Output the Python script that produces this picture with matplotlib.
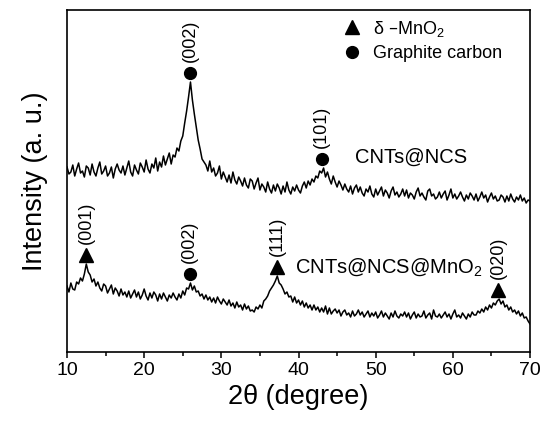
import numpy as np
import matplotlib
matplotlib.use('Agg')
import matplotlib.pyplot as plt
from matplotlib.lines import Line2D

plt.rcParams['font.family'] = ['Liberation Sans', 'DejaVu Sans']
plt.rcParams['mathtext.default'] = 'regular'

# XRD patterns, 2-theta from 10 to 70 deg in 0.25 deg steps (arbitrary intensity units)
two_theta = np.arange(10.0, 70.01, 0.25)

cnts_ncs = [
    185, 178, 180, 187,   176, 183, 189, 179,   181, 175, 186, 184,
    177, 188, 180, 176,   184, 190, 178, 181,   186, 176, 179, 185,
    174, 183, 188, 182,   179, 186, 177, 184,   191, 180, 176, 187,
    182, 178, 189, 185,   180, 192, 183, 179,   188, 184, 194, 181,
    190, 185, 196, 187,   193, 199, 188, 197,   195, 204, 201, 211,
    216, 229, 241, 255,   270, 252, 238, 225,   212, 203, 193, 190,
    187, 181, 191, 180,   184, 176, 179, 186,   173, 180, 175, 170,
    177, 169, 180, 172,   168, 175, 171, 166,   174, 167, 164, 173,
    171, 163, 169, 174,   162, 168, 165, 160,   170, 163, 159, 167,
    161, 168, 164, 158,   166, 160, 170, 162,   158, 165, 161, 167,
    162, 159, 166, 170,   164, 171, 167, 173,   170, 176, 174, 181,
    179, 184, 175, 180,   173, 168, 176, 170,   165, 171, 167, 162,
    168, 163, 160, 166,   158, 164, 167, 160,   165, 159, 156, 163,
    160, 166, 158, 155,   163, 157, 161, 165,   156, 162, 159, 154,
    161, 165, 157, 160,   155, 158, 163, 156,   162, 154, 159, 157,
    153, 160, 164, 156,   159, 155, 152, 161,   163, 156, 158, 153,
    155, 160, 154, 158,   161, 152, 157, 163,   154, 158, 153, 156,
    160, 155, 151, 157,   153, 159, 156, 152,   158, 151, 155, 160,
    154, 157, 150, 155,   159, 153, 156, 151,   152, 157, 155, 150,
    156, 151, 158, 153,   150, 155, 152, 157,   151, 154, 149, 152,
    151,
]

cnts_ncs_mno2 = [
    66, 60, 69, 63,   62, 70, 68, 74,   71, 78, 88, 80,   77, 70, 73, 66,
    70, 64, 61, 68,   66, 59, 63, 67,   58, 64, 61, 56,   63, 57, 60, 55,
    61, 54, 58, 62,   55, 60, 53, 57,   63, 56, 52, 59,   54, 60, 57, 51,
    58, 53, 59, 55,   51, 57, 54, 59,   55, 52, 58, 54,   61, 57, 64, 63,
    69, 62, 66, 60,   61, 56, 58, 53,   57, 52, 55, 50,   54, 49, 55, 51,
    48, 53, 50, 47,   52, 46, 49, 44,   50, 45, 47, 42,   48, 43, 46, 41,
    42, 40, 45, 43,   47, 44, 51, 53,   56, 61, 64, 67,   71, 76, 69, 67,
    63, 58, 60, 55,   56, 50, 55, 49,   52, 47, 51, 45,   49, 44, 47, 42,
    47, 42, 45, 40,   44, 40, 46, 38,   44, 38, 41, 43,   39, 42, 36, 40,
    42, 37, 39, 35,   41, 36, 38, 42,   37, 40, 35, 38,   41, 35, 39, 36,
    40, 34, 37, 41,   35, 39, 36, 33,   39, 35, 41, 36,   34, 38, 36, 40,
    35, 39, 33, 37,   40, 34, 38, 35,   36, 41, 34, 37,   39, 33, 42, 36,
    35, 38, 34, 37,   40, 35, 38, 33,   38, 42, 35, 37,   34, 39, 36, 33,
    38, 35, 40, 37,   37, 41, 39, 43,   40, 45, 42, 47,   44, 49, 47, 51,
    53, 48, 51, 45,   47, 42, 45, 40,   42, 38, 41, 36,   39, 34, 35, 31,
    28,
]

# indexed reflections: (2-theta, hkl, phase)
peaks_ncs = [(26.0, '(002)', 'C'), (43.0, '(101)', 'C')]
peaks_mno2 = [(12.5, '(001)', 'M'), (25.9, '(002)', 'C'),
              (37.2, '(111)', 'M'), (65.9, '(020)', 'M')]

phase_marker = {'M': '^', 'C': 'o'}
phase_size = {'M': 9.5, 'C': 8.5}


def mark_peaks(ax, x, y, peaks):
    x = np.asarray(x)
    y = np.asarray(y)
    for pos, hkl, phase in peaks:
        near = np.abs(x - pos) <= 0.5
        top = y[near].max() + 9
        ax.plot(pos, top, phase_marker[phase], color='black',
                ms=phase_size[phase], clip_on=False)
        ax.annotate(hkl, (pos, top), xytext=(0, 8), textcoords='offset points',
                    rotation=90, ha='center', va='bottom', fontsize=13)


fig = plt.figure(figsize=(5.43, 4.21), dpi=100)
ax = fig.add_axes([0.1234, 0.1639, 0.8527, 0.8123])

ax.plot(two_theta, cnts_ncs, color='black', lw=1.1)
ax.plot(two_theta, cnts_ncs_mno2, color='black', lw=1.1)

mark_peaks(ax, two_theta, cnts_ncs, peaks_ncs)
mark_peaks(ax, two_theta, cnts_ncs_mno2, peaks_mno2)

ax.text(47.3, 195, 'CNTs@NCS', fontsize=14.5, va='center', ha='left')
ax.text(39.55, 85, 'CNTs@NCS@MnO$_2$', fontsize=14.5, va='center', ha='left')

handles = [Line2D([], [], ls='none', marker='^', color='black', ms=9.5),
           Line2D([], [], ls='none', marker='o', color='black', ms=8.5)]
ax.legend(handles, ['\u03b4 \u2013MnO$_2$', 'Graphite carbon'],
          loc='upper left', bbox_to_anchor=(0.596, 0.975), frameon=False,
          fontsize=13, handlelength=1.0, handletextpad=0.65,
          borderpad=0, borderaxespad=0, labelspacing=0.35)

ax.set_xlim(10, 70)
ax.set_ylim(0, 342)
ax.set_xticks(np.arange(10, 71, 10))
ax.set_xticks(np.arange(15, 70, 10), minor=True)
ax.set_yticks([])
ax.tick_params(axis='x', which='major', direction='out', length=4, width=1.1,
               labelsize=14, pad=3)
ax.tick_params(axis='x', which='minor', direction='out', length=3, width=1.1)
for s in ax.spines.values():
    s.set_linewidth(1.2)

ax.set_xlabel('2\u03b8 (degree)', fontsize=19.5, labelpad=4)
ax.set_ylabel('Intensity (a. u.)', fontsize=19.5, labelpad=14)

fig.savefig('out.png', dpi=100)
